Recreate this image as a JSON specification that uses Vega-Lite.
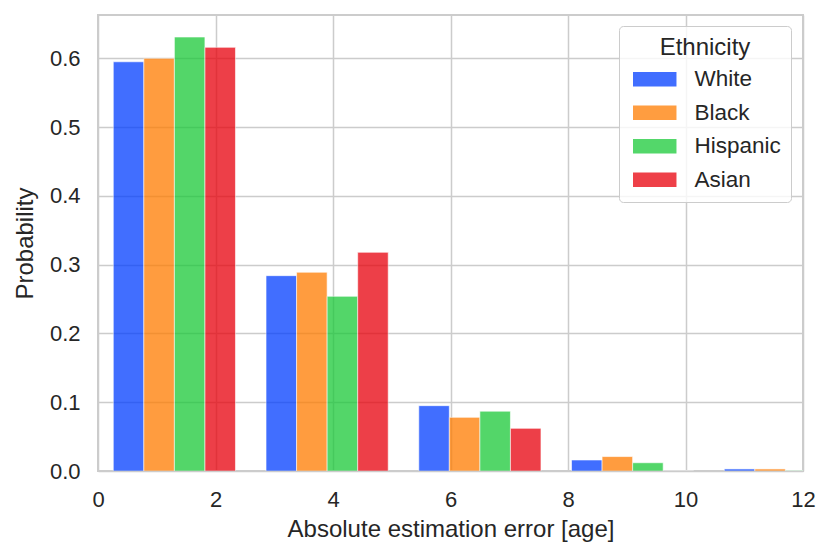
{
  "$schema": "https://vega.github.io/schema/vega-lite/v6.json",
  "width": 705,
  "height": 456,
  "autosize": {"type": "none"},
  "padding": {"left": 98, "top": 15, "right": 28, "bottom": 89},
  "background": "white",
  "data": {
    "values": [
      {"bin_start": 0, "bin_end": 2.6, "Ethnicity": "White", "Probability": 0.595},
      {"bin_start": 0, "bin_end": 2.6, "Ethnicity": "Black", "Probability": 0.600},
      {"bin_start": 0, "bin_end": 2.6, "Ethnicity": "Hispanic", "Probability": 0.631},
      {"bin_start": 0, "bin_end": 2.6, "Ethnicity": "Asian", "Probability": 0.616},
      {"bin_start": 2.6, "bin_end": 5.2, "Ethnicity": "White", "Probability": 0.284},
      {"bin_start": 2.6, "bin_end": 5.2, "Ethnicity": "Black", "Probability": 0.289},
      {"bin_start": 2.6, "bin_end": 5.2, "Ethnicity": "Hispanic", "Probability": 0.254},
      {"bin_start": 2.6, "bin_end": 5.2, "Ethnicity": "Asian", "Probability": 0.318},
      {"bin_start": 5.2, "bin_end": 7.8, "Ethnicity": "White", "Probability": 0.095},
      {"bin_start": 5.2, "bin_end": 7.8, "Ethnicity": "Black", "Probability": 0.078},
      {"bin_start": 5.2, "bin_end": 7.8, "Ethnicity": "Hispanic", "Probability": 0.087},
      {"bin_start": 5.2, "bin_end": 7.8, "Ethnicity": "Asian", "Probability": 0.062},
      {"bin_start": 7.8, "bin_end": 10.4, "Ethnicity": "White", "Probability": 0.016},
      {"bin_start": 7.8, "bin_end": 10.4, "Ethnicity": "Black", "Probability": 0.021},
      {"bin_start": 7.8, "bin_end": 10.4, "Ethnicity": "Hispanic", "Probability": 0.012},
      {"bin_start": 7.8, "bin_end": 10.4, "Ethnicity": "Asian", "Probability": 0},
      {"bin_start": 10.4, "bin_end": 13, "Ethnicity": "White", "Probability": 0.003},
      {"bin_start": 10.4, "bin_end": 13, "Ethnicity": "Black", "Probability": 0.003},
      {"bin_start": 10.4, "bin_end": 13, "Ethnicity": "Hispanic", "Probability": 0.0006},
      {"bin_start": 10.4, "bin_end": 13, "Ethnicity": "Asian", "Probability": 0}
    ]
  },
  "transform": [
    {"calculate": "indexof(['White','Black','Hispanic','Asian'], datum.Ethnicity)", "as": "k"},
    {"calculate": "datum.bin_start + (datum.bin_end - datum.bin_start) * (0.1 + 0.2 * datum.k)", "as": "x0"},
    {"calculate": "datum.x0 + (datum.bin_end - datum.bin_start) * 0.2", "as": "x1"}
  ],
  "mark": {"type": "bar", "opacity": 0.75, "stroke": "white", "strokeWidth": 1, "strokeOpacity": 0.6, "clip": true},
  "encoding": {
    "x": {
      "field": "x0",
      "type": "quantitative",
      "scale": {"domain": [0, 12], "nice": false, "zero": false},
      "axis": {"values": [0, 2, 4, 6, 8, 10, 12], "title": "Absolute estimation error [age]", "labelFlush": false}
    },
    "x2": {"field": "x1"},
    "y": {
      "field": "Probability",
      "type": "quantitative",
      "scale": {"domain": [0, 0.663], "nice": false},
      "axis": {"values": [0, 0.1, 0.2, 0.3, 0.4, 0.5, 0.6], "format": ".1f", "title": "Probability"}
    },
    "y2": {"datum": 0},
    "color": {
      "field": "Ethnicity",
      "type": "nominal",
      "sort": ["White", "Black", "Hispanic", "Asian"],
      "scale": {"domain": ["White", "Black", "Hispanic", "Asian"], "range": ["#023eff", "#ff7c00", "#1ac938", "#e8000b"]},
      "legend": {
        "orient": "none",
        "legendX": 521,
        "legendY": 11,
        "padding": 10,
        "strokeColor": "#cccccc",
        "fillColor": "rgba(255,255,255,0.8)",
        "cornerRadius": 4,
        "titleAnchor": "middle",
        "titleFontSize": 24,
        "titleFontWeight": "normal",
        "titleColor": "#262626",
        "titleFont": "Liberation Sans",
        "titlePadding": 8,
        "labelFontSize": 22.5,
        "labelFont": "Liberation Sans",
        "labelColor": "#262626",
        "labelOffset": 43,
        "symbolType": "M-1,-1H5V1H-1Z",
        "symbolSize": 210,
        "symbolOpacity": 0.75,
        "symbolStrokeWidth": 0,
        "rowPadding": 10.5
      }
    }
  },
  "config": {
    "view": {"stroke": "#cccccc", "strokeWidth": 2},
    "axis": {
      "grid": true,
      "gridColor": "#cccccc",
      "gridWidth": 1.5,
      "domain": false,
      "ticks": false,
      "labelFont": "Liberation Sans",
      "labelFontSize": 22,
      "labelColor": "#262626",
      "titleFont": "Liberation Sans",
      "titleFontSize": 24,
      "titleFontWeight": "normal",
      "titleColor": "#262626"
    },
    "axisX": {"labelPadding": 18, "titlePadding": 7},
    "axisY": {"labelPadding": 18, "titlePadding": 12}
  }
}
